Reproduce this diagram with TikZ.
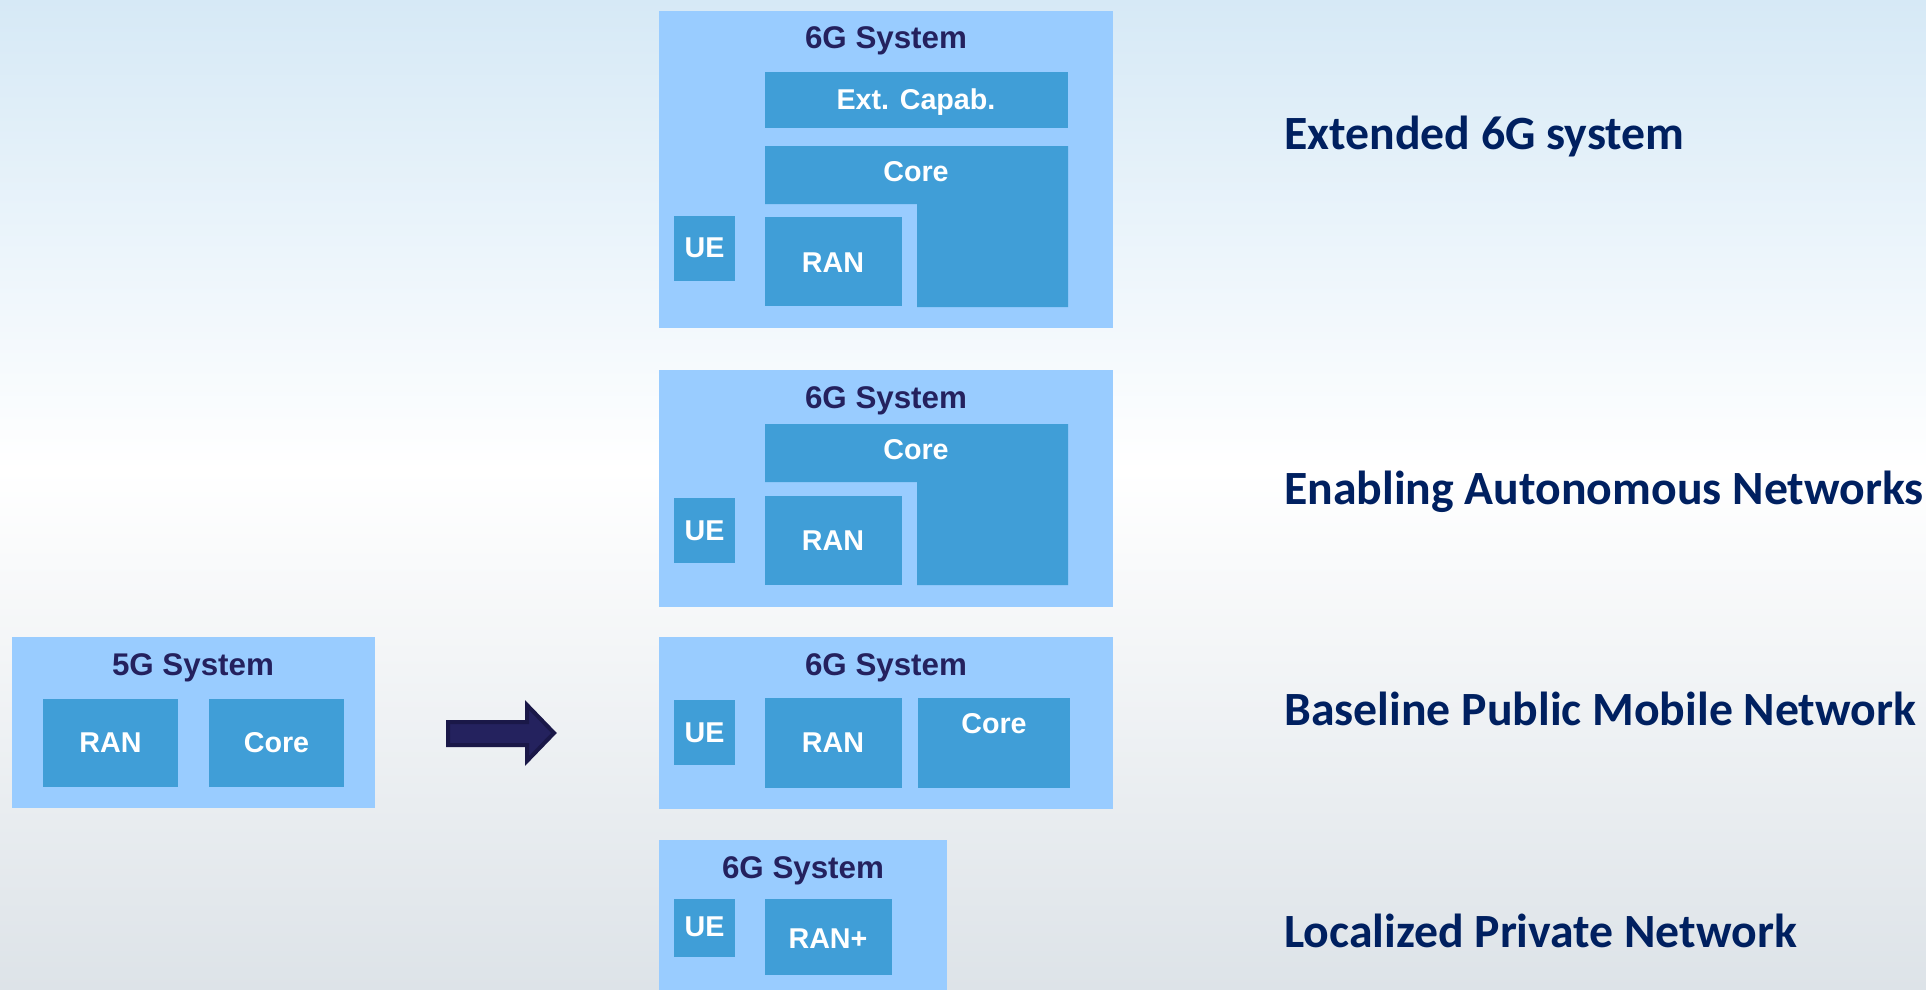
\documentclass[tikz,border=0pt]{standalone}
\usepackage{fontspec}
\usepackage{tikz}
\setmainfont{Liberation Sans}
\newfontfamily\capfont{Carlito}

\definecolor{bgtop}{RGB}{214,233,246}
\definecolor{bgbot}{RGB}{221,227,232}
\definecolor{sysblue}{RGB}{153,204,255}
\definecolor{blkblue}{RGB}{64,158,215}
\definecolor{titlenavy}{RGB}{36,33,94}
\definecolor{capnavy}{RGB}{0,32,96}
\definecolor{arrowfill}{RGB}{36,34,94}
\definecolor{arrowline}{RGB}{26,24,72}

\tikzset{
  sysbox/.style={fill=sysblue, draw=none},
  blkbox/.style={fill=blkblue, draw=none},
  systitle/.style={anchor=base, inner sep=0pt, text=titlenavy, font=\bfseries\fontsize{23.5}{28}\selectfont},
  blklabel/.style={anchor=base, inner sep=0pt, text=white, font=\bfseries\fontsize{21.5}{26}\selectfont},
  caption/.style={anchor=base west, inner sep=0pt, text=capnavy, font=\capfont\bfseries\fontsize{35.8}{43}\selectfont}
}

\begin{document}
\begin{tikzpicture}[x=0.75pt,y=0.75pt,yscale=-1,xscale=1]
        \useasboundingbox (0,0) rectangle (1926,989);
        %Background
        \shade [top color=bgtop, bottom color=white] (0,0) rectangle (1926,470);
        \shade [top color=white, bottom color=bgbot] (0,469) rectangle (1926,989);

        %Shape: Extended 6G system
        \draw [sysbox] (659,11) rectangle (1113,328);
        \draw [blkbox] (765,72) rectangle (1068,128);
        \draw [blkbox] (765,146) -- (1068,146) -- (1068,307) -- (917,307) -- (917,204) -- (765,204) -- cycle;
        \draw [blkbox] (765,217) rectangle (902,306);
        \draw [blkbox] (674,216) rectangle (735,281);
        \node [systitle] (extTitle) at (886,48) {6G System};
        \node [blklabel] (extCap) at (916,109) {Ext. Capab.};
        \node [blklabel] (extCore) at (916,181) {Core};
        \node [blklabel] (extRan) at (833,272) {RAN};
        \node [blklabel] (extUe) at (704.5,257) {UE};

        %Shape: Autonomous networks
        \draw [sysbox] (659,370) rectangle (1113,607);
        \draw [blkbox] (765,424) -- (1068,424) -- (1068,585) -- (917,585) -- (917,482) -- (765,482) -- cycle;
        \draw [blkbox] (765,496) rectangle (902,585);
        \draw [blkbox] (674,498) rectangle (735,563);
        \node [systitle] (autTitle) at (886,408) {6G System};
        \node [blklabel] (autCore) at (916,459) {Core};
        \node [blklabel] (autRan) at (833,550) {RAN};
        \node [blklabel] (autUe) at (704.5,540) {UE};

        %Shape: Baseline public mobile network
        \draw [sysbox] (659,637) rectangle (1113,809);
        \draw [blkbox] (674,700) rectangle (735,765);
        \draw [blkbox] (765,698) rectangle (902,788);
        \draw [blkbox] (918,698) rectangle (1070,788);
        \node [systitle] (basTitle) at (886,675) {6G System};
        \node [blklabel] (basUe) at (704.5,742) {UE};
        \node [blklabel] (basRan) at (833,752) {RAN};
        \node [blklabel] (basCore) at (994,733) {Core};

        %Shape: Localized private network
        \draw [sysbox] (659,840) rectangle (947,1000);
        \draw [blkbox] (674,899) rectangle (735,957);
        \draw [blkbox] (765,899) rectangle (892,975);
        \node [systitle] (locTitle) at (803,878) {6G System};
        \node [blklabel] (locUe) at (704.5,936) {UE};
        \node [blklabel] (locRan) at (828,948) {RAN+};

        %Shape: 5G system
        \draw [sysbox] (12,637) rectangle (375,808);
        \draw [blkbox] (43,699) rectangle (178,787);
        \draw [blkbox] (209,699) rectangle (344,787);
        \node [systitle] (fgTitle) at (193,675) {5G System};
        \node [blklabel] (fgRan) at (110.5,752) {RAN};
        \node [blklabel] (fgCore) at (276.5,752) {Core};

        %Shape: Block arrow
        \draw [fill=arrowfill, draw=arrowline, line width=3pt, line join=miter]
          (448,722) -- (527,722) -- (527,705) -- (554,733) -- (527,761) -- (527,745) -- (448,745) -- cycle;

        % Text Node
        \node [caption] (capExt) at (1284,149) {Extended 6G system};
        % Text Node
        \node [caption] (capAut) at (1284,504) {Enabling Autonomous Networks};
        % Text Node
        \node [caption] (capBas) at (1284,725) {Baseline Public Mobile Network};
        % Text Node
        \node [caption] (capLoc) at (1284,947) {Localized Private Network};

\end{tikzpicture}
\end{document}
